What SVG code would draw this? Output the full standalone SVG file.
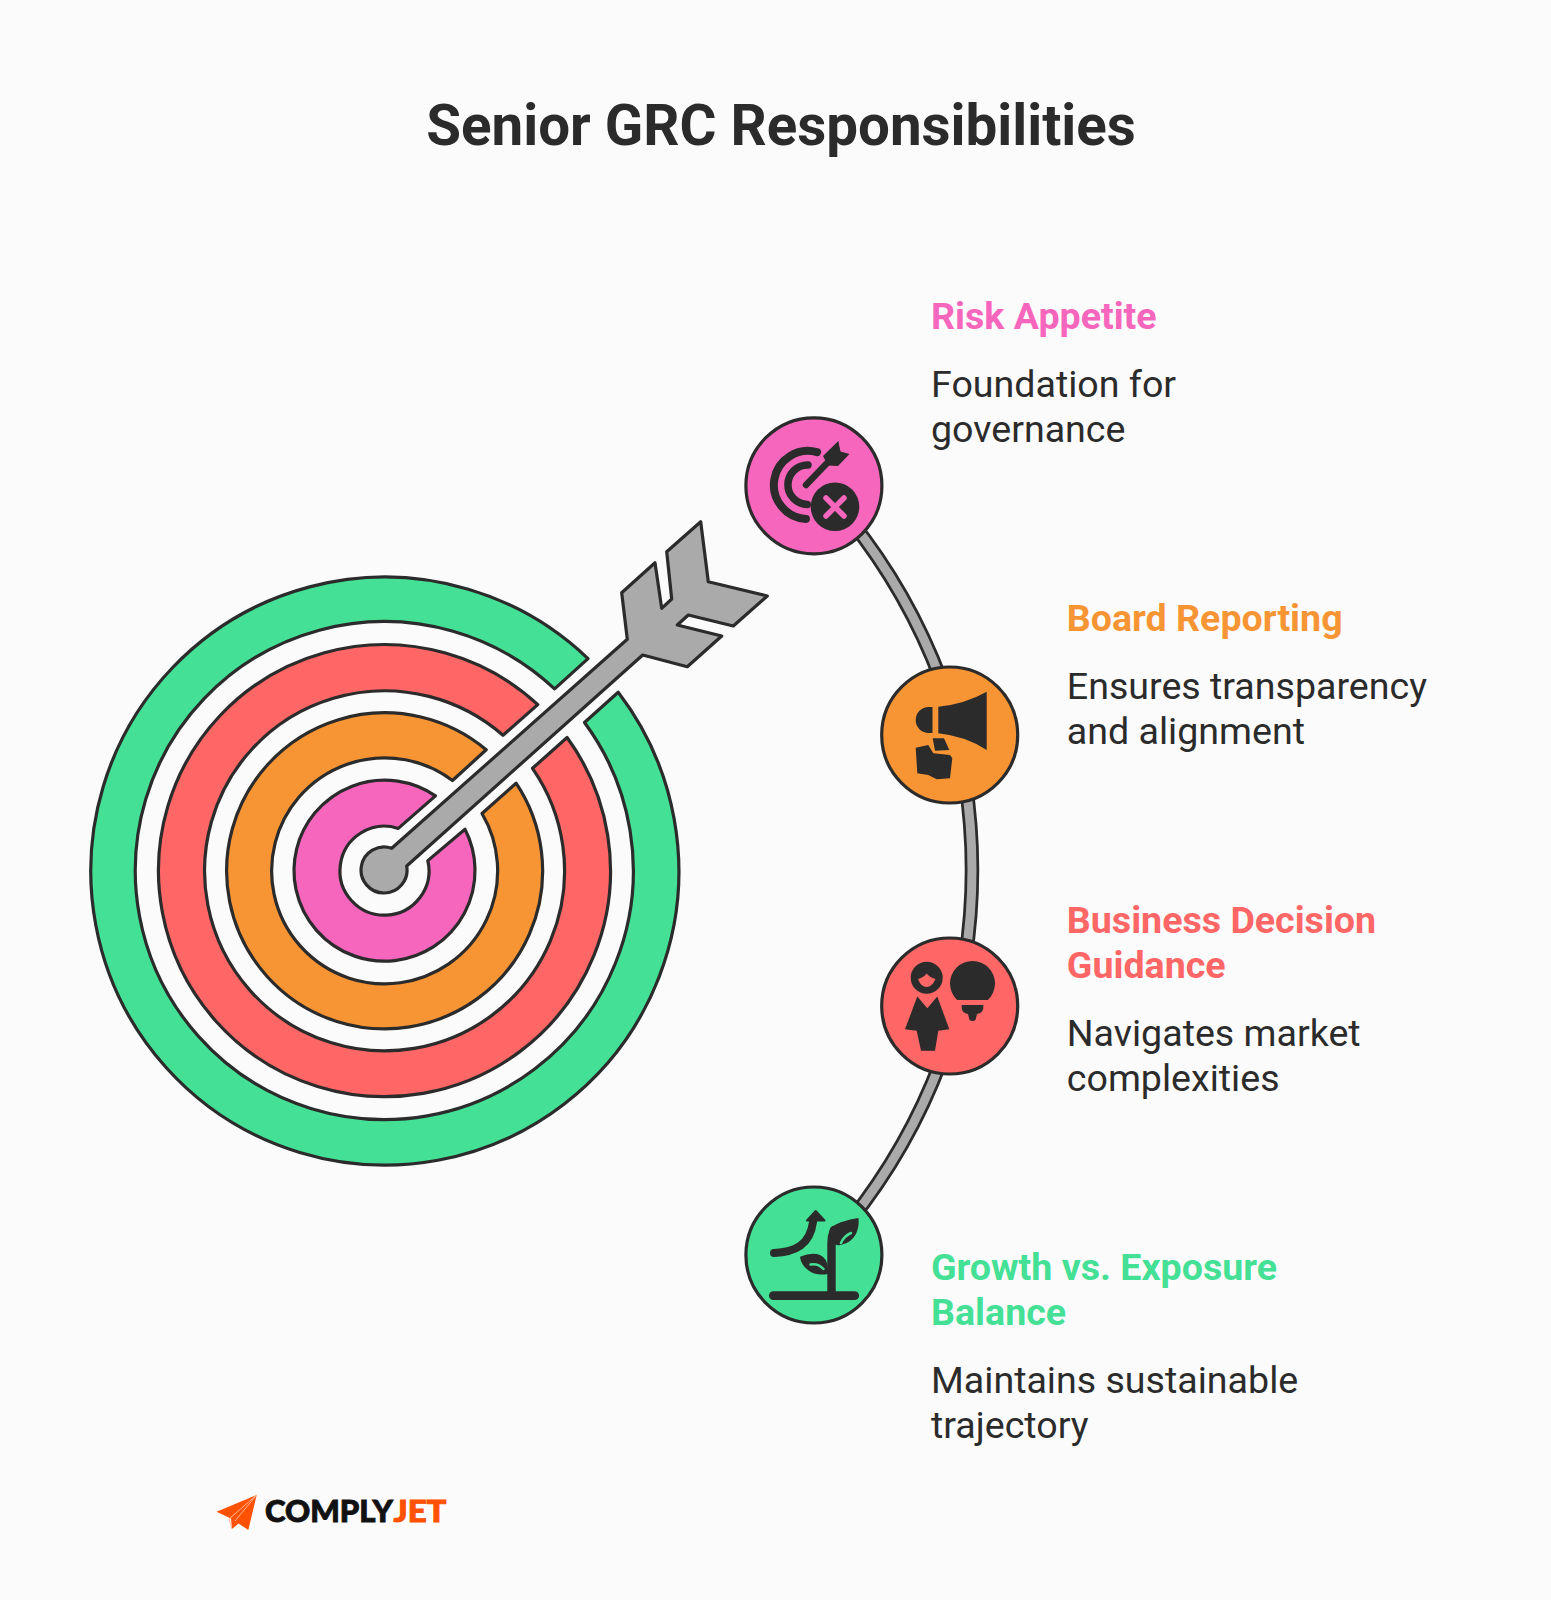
<svg xmlns="http://www.w3.org/2000/svg" width="1551" height="1600" viewBox="0 0 1551 1600">
<style>
.o{stroke:#2b2b2b;stroke-width:3.2;stroke-linejoin:round}
.ic{fill:#2b2b2b}
.ln{fill:none;stroke:#2b2b2b;stroke-linecap:round}
.t{font-family:Roboto,"Liberation Sans",sans-serif}
.h{font-size:37.6px;font-weight:700}
.b{font-size:37.6px;fill:#2b2b2b}
.cd{fill:none;stroke:#2b2b2b;stroke-width:14.5}
.cg{fill:none;stroke:#aaaaaa;stroke-width:9}
.lg{font-family:Lato,Inter,sans-serif;font-size:30px;font-weight:900;stroke-width:.9}
</style>
<rect width="1551" height="1600" fill="#fbfbfb"/>
<text id="title" class="t" x="781" y="144.5" text-anchor="middle" font-size="56.5" font-weight="700" fill="#2b2b2b">Senior GRC Responsibilities</text>
<g id="connectors">
<path class="cd" d="M850 520A586 586 0 0 1 941 680"/><path class="cg" d="M850 520A586 586 0 0 1 941 680"/>
<path class="cd" d="M965 780A586 586 0 0 1 965 960"/><path class="cg" d="M965 780A586 586 0 0 1 965 960"/>
<path class="cd" d="M941 1061A586 586 0 0 1 850 1221"/><path class="cg" d="M941 1061A586 586 0 0 1 850 1221"/>
</g>
<g id="target">
<path class="o" fill="#43e095" d="M618.2 692.3A294 294 0 1 1 588 658.6L554.6 688.9A249 249 0 1 0 584.5 722.5Z"/>
<path class="o" fill="#ff6666" d="M567.1 737.5A226 226 0 1 1 537.8 704.6L503 735.3A180 180 0 1 0 532.5 768.3Z"/>
<path class="o" fill="#f79535" d="M516.1 783.2A158 158 0 1 1 486.2 749.8L452.5 780.5A113 113 0 1 0 482 813.5Z"/>
<path class="o" fill="#f766bd" d="M465 829.3A90.5 90.5 0 1 1 435.5 795.9L398.3 828.4A44.5 44.5 0 1 0 427.8 860.6Z"/>
<path id="arrow" class="o" fill="#aaaaaa" d="M391.7 848.3L627.3 639.3L621.7 592.7L655 562.7L661.7 608.3L671.7 599L666.7 551.7L700.7 521.7L708.3 581.7L767.3 596L733.3 626L688.3 615L677.3 625L721.7 636L687.3 666.7L642.7 655L406.7 866A23 23 0 1 1 391.7 848.3Z"/>
</g>
<g id="node-risk">
<circle class="o" cx="813.9" cy="485.8" r="68" fill="#f766bd"/>
<path class="ln" stroke-width="8" d="M817 452.2A34 34 0 1 0 806 518.9"/>
<path class="ln" stroke-width="7.5" d="M808 465A19.7 19.7 0 1 0 807.3 504.4"/>
<path class="ln" stroke-width="6.5" d="M806 485L830 460"/>
<path class="ic" d="M823 456L838.3 441L840.5 451.5L849.5 454L838 466L828 465.5Z"/>
<circle class="ic" cx="835" cy="506.7" r="24.3"/>
<path fill="none" stroke="#f766bd" stroke-width="5.5" stroke-linecap="round" d="M826 498L844 516M844 498L826 516"/>
</g>
<g id="node-board">
<circle class="o" cx="949.7" cy="735" r="68" fill="#f79535"/>
<path class="ic" d="M938.3 706.7Q965 704 986.7 691.7V750Q965 736 938.3 733.3Z"/>
<path class="ic" d="M932.5 707V733H928.7A13 13 0 0 1 928.7 707Z"/>
<path class="ic" d="M932.7 738.3H944L949.3 750L935 750.7Z"/>
<path class="ic" d="M915.7 747.7L928.3 745L933.3 753.3L950 755L952.3 758.3L950 778.3L936.7 779.3L928.3 775L917.3 773.3Z"/>
</g>
<g id="node-business">
<circle class="o" cx="949.7" cy="1006" r="68" fill="#ff6666"/>
<circle class="ic" cx="926.7" cy="977.7" r="16"/>
<path fill="#ff6666" d="M918 979Q924 977 926.7 973.5Q929.5 977 935.5 979Q932 987 926.7 987Q921 987 918 979Z"/>
<path class="ic" d="M905 1029.3L917.3 996.5L927.3 1008.3L937.3 996.5L949.3 1029.3L938.3 1030.7L935 1050.7H921L916.7 1030.7Z"/>
<path class="ic" d="M957.2 1000A22.5 22.5 0 1 1 987.8 1000Z"/>
<path class="ic" d="M961.7 1005H983.3V1008Q983 1013 977 1014L976 1018Q976 1021 972.5 1021Q969 1021 969 1018L968 1014Q962 1013 961.7 1008Z"/>
</g>
<g id="node-growth">
<circle class="o" cx="813.9" cy="1255" r="68" fill="#43e095"/>
<path class="ln" stroke-width="8.7" d="M773.3 1295.7H854.7"/>
<path class="ln" stroke-width="8.4" d="M831.5 1295V1243Q831.5 1236 834 1230"/>
<path class="ic" d="M830 1237C826 1228 835 1222 858.5 1218C860 1232 853 1243 840 1245C835 1246 833 1243 834 1240Z"/>
<path fill="none" stroke="#43e095" stroke-width="2.5" stroke-linecap="round" d="M841 1243Q844 1236 851 1233"/>
<path class="ic" d="M800 1256.7Q812 1252 820 1255Q827 1258 828 1268L828 1274Q815 1276 808 1270Q801 1265 800 1256.7Z"/>
<path fill="none" stroke="#43e095" stroke-width="2.5" stroke-linecap="round" d="M810.5 1264.5Q818 1263 823.5 1269"/>
<path class="ln" stroke-width="8" d="M774 1253C795 1252 810 1245 813 1222"/>
<path class="ic" stroke="#2b2b2b" stroke-width="2" stroke-linejoin="round" d="M807 1220.5L815.7 1211L824.5 1220.5Z"/>
</g>
<g id="text-risk" class="t">
<text class="h" x="931" y="329" fill="#f766bd">Risk Appetite</text>
<text class="b" x="931" y="397">Foundation for</text>
<text class="b" x="931" y="442">governance</text>
</g>
<g id="text-board" class="t">
<text class="h" x="1066.8" y="631" fill="#f79535">Board Reporting</text>
<text class="b" x="1066.8" y="699">Ensures transparency</text>
<text class="b" x="1066.8" y="744">and alignment</text>
</g>
<g id="text-business" class="t">
<text class="h" x="1066.8" y="933" fill="#ff6666">Business Decision</text>
<text class="h" x="1066.8" y="978" fill="#ff6666">Guidance</text>
<text class="b" x="1066.8" y="1046">Navigates market</text>
<text class="b" x="1066.8" y="1091">complexities</text>
</g>
<g id="text-growth" class="t">
<text class="h" x="931" y="1279.5" fill="#43e095">Growth vs. Exposure</text>
<text class="h" x="931" y="1324.5" fill="#43e095">Balance</text>
<text class="b" x="931" y="1393">Maintains sustainable</text>
<text class="b" x="931" y="1438">trajectory</text>
</g>
<g id="logo">
<path fill="#ff5100" d="M256.7 1495L216.5 1511.7L231 1518.5L232 1529L238.5 1523.5L248.3 1530Z"/>
<path fill="none" stroke="#ffb59a" stroke-width="1" d="M256.7 1495L229 1519L232 1529M256.7 1495L235 1521"/>
<text class="lg" x="265" y="1521.5" fill="#111111" stroke="#111111" textLength="128" lengthAdjust="spacingAndGlyphs">COMPLY</text>
<text class="lg" x="393.5" y="1521.5" fill="#ff5100" stroke="#ff5100" textLength="53" lengthAdjust="spacingAndGlyphs">JET</text>
</g>
</svg>
